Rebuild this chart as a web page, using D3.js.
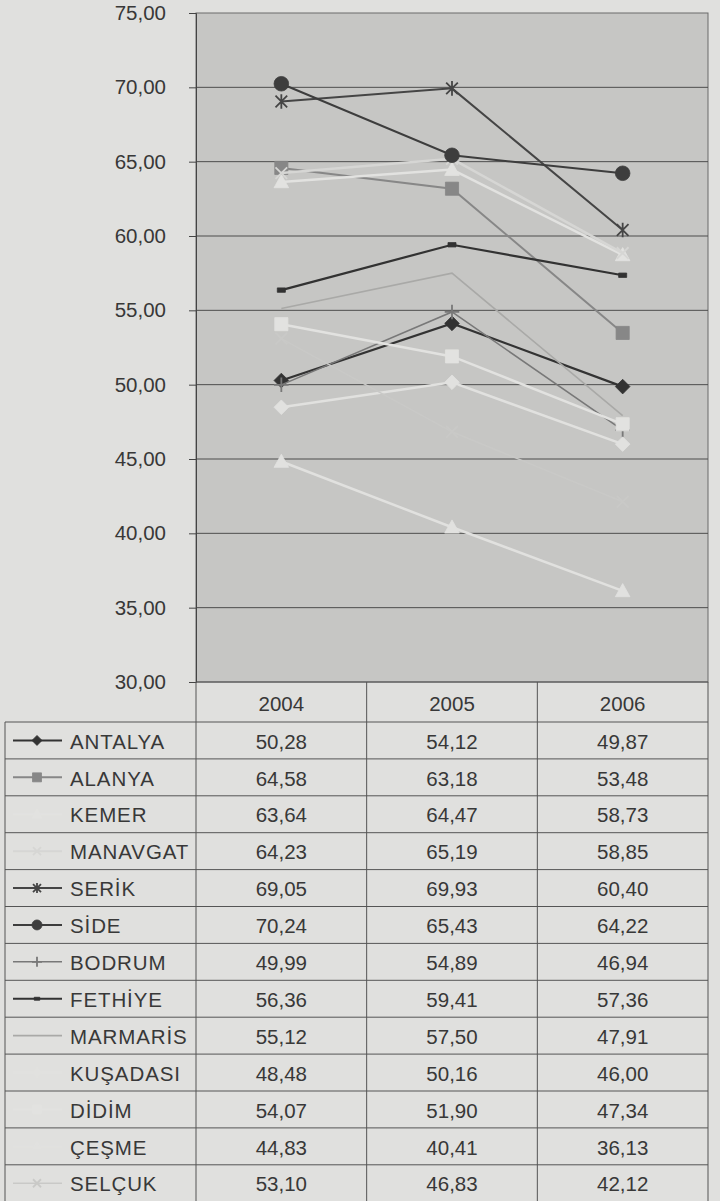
<!DOCTYPE html>
<html>
<head>
<meta charset="utf-8">
<script src="https://cdn.jsdelivr.net/npm/d3@7"></script>
<style>
  body { margin: 0; background: #e0e0de; }
  svg { display: block; }
  text { font-family: "Liberation Sans", Arial, sans-serif; fill: #383838; }
</style>
</head>
<body>
<svg id="chart"></svg>
<script>
var years = ["2004", "2005", "2006"];
var cities = ["ANTALYA", "ALANYA", "KEMER", "MANAVGAT", "SERİK", "SİDE", "BODRUM",
              "FETHİYE", "MARMARİS", "KUŞADASI", "DİDİM", "ÇEŞME", "SELÇUK"];

var antalya  = [50.28, 54.12, 49.87];
var alanya   = [64.58, 63.18, 53.48];
var kemer    = [63.64, 64.47, 58.73];
var manavgat = [64.23, 65.19, 58.85];
var serik    = [69.05, 69.93, 60.40];
var side     = [70.24, 65.43, 64.22];
var bodrum   = [49.99, 54.89, 46.94];
var fethiye  = [56.36, 59.41, 57.36];
var marmaris = [55.12, 57.50, 47.91];
var kusadasi = [48.48, 50.16, 46.00];
var didim    = [54.07, 51.90, 47.34];
var cesme    = [44.83, 40.41, 36.13];
var selcuk   = [53.10, 46.83, 42.12];

var yTicks = [30, 35, 40, 45, 50, 55, 60, 65, 70, 75];

var seriesValues = [antalya, alanya, kemer, manavgat, serik, side, bodrum,
                    fethiye, marmaris, kusadasi, didim, cesme, selcuk];

// grey-scale look of the scanned excel series
var styles = [
  {color: "#333333", width: 2.2, marker: "diamond"},
  {color: "#878787", width: 2,   marker: "square"},
  {color: "#e2e2e0", width: 2.5, marker: "triangle"},
  {color: "#d6d6d4", width: 2.5, marker: "x"},
  {color: "#454545", width: 2,   marker: "asterisk"},
  {color: "#3d3d3d", width: 2,   marker: "circle"},
  {color: "#787878", width: 1.5, marker: "plus"},
  {color: "#323232", width: 2.2, marker: "dash"},
  {color: "#a9a9a7", width: 1.6, marker: "none"},
  {color: "#e1e1df", width: 2.5, marker: "diamond"},
  {color: "#e2e2e0", width: 2.5, marker: "square"},
  {color: "#e1e1df", width: 2.5, marker: "triangle"},
  {color: "#c9c9c7", width: 1.5, marker: "x"}
];

var width = 720, height = 1201;
var plot = {left: 196, right: 708, top: 13, bottom: 682};
var rowTop = 722, rowH = 36.9, tableLeft = 5;
var fontSize = "20.5px";

var locale = d3.formatLocale({decimal: ",", thousands: ".", grouping: [3], currency: ["", ""]});
var fmt = locale.format(".2f");

var svg = d3.select("#chart").attr("width", width).attr("height", height);

var xScale = d3.scaleBand().domain(years).range([plot.left, plot.right]);
var yScale = d3.scaleLinear().domain([30, 75]).range([plot.bottom, plot.top]);
var rowScale = d3.scaleBand().domain(cities).range([rowTop, rowTop + rowH * cities.length]);

// plot area
svg.append("rect")
  .attr("x", plot.left).attr("y", plot.top)
  .attr("width", plot.right - plot.left).attr("height", plot.bottom - plot.top)
  .attr("fill", "#c6c6c4")
  .attr("stroke", "#6a6a6a").attr("stroke-width", 1);

// gridlines
svg.append("g")
  .selectAll("line")
  .data(yTicks.slice(1, -1)).enter()
  .append("line")
    .attr("x1", plot.left).attr("x2", plot.right)
    .attr("y1", function(d){ return yScale(d); })
    .attr("y2", function(d){ return yScale(d); })
    .attr("stroke", "#4d4d4d").attr("stroke-width", 1);

// y axis
var yAxis = d3.axisLeft(yScale)
  .tickValues(yTicks)
  .tickSize(7)
  .tickPadding(23)
  .tickFormat(fmt);

var yg = svg.append("g")
  .attr("transform", "translate(" + plot.left + ",0)")
  .call(yAxis);
yg.select(".domain").attr("stroke", "#444");
yg.selectAll(".tick line").attr("stroke", "#444");
yg.selectAll(".tick text")
  .attr("font-size", fontSize)
  .attr("font-family", "Liberation Sans, Arial, sans-serif")
  .attr("fill", "#3c3c3c");

// markers
function markerPath(type, r) {
  var p = d3.path();
  if (type === "diamond") {
    p.moveTo(0, -r); p.lineTo(r, 0); p.lineTo(0, r); p.lineTo(-r, 0); p.closePath();
  } else if (type === "square") {
    p.rect(-r * 0.9, -r * 0.9, r * 1.8, r * 1.8);
  } else if (type === "triangle") {
    p.moveTo(0, -r); p.lineTo(r, r * 0.8); p.lineTo(-r, r * 0.8); p.closePath();
  } else if (type === "circle") {
    p.arc(0, 0, r, 0, 2 * Math.PI);
  } else if (type === "x") {
    p.moveTo(-r * 0.8, -r * 0.8); p.lineTo(r * 0.8, r * 0.8);
    p.moveTo(r * 0.8, -r * 0.8); p.lineTo(-r * 0.8, r * 0.8);
  } else if (type === "asterisk") {
    p.moveTo(-r * 0.8, -r * 0.8); p.lineTo(r * 0.8, r * 0.8);
    p.moveTo(r * 0.8, -r * 0.8); p.lineTo(-r * 0.8, r * 0.8);
    p.moveTo(0, -r); p.lineTo(0, r);
  } else if (type === "plus") {
    p.moveTo(-r, 0); p.lineTo(r, 0);
    p.moveTo(0, -r); p.lineTo(0, r);
  } else if (type === "dash") {
    p.rect(-r * 0.55, -r * 0.3, r * 1.1, r * 0.6);
  }
  return p.toString();
}
var filled = {diamond: true, square: true, triangle: true, circle: true, dash: true};

function drawMarker(g, st, r) {
  if (st.marker === "none") return;
  g.append("path")
    .attr("d", markerPath(st.marker, r))
    .attr("fill", filled[st.marker] ? st.color : "none")
    .attr("stroke", st.color)
    .attr("stroke-width", filled[st.marker] ? 0.8 : 1.8);
}

var line = d3.line()
  .x(function(d, i){ return xScale(years[i]) + xScale.bandwidth() / 2; })
  .y(function(d){ return yScale(d); });

var lines = svg.append("g");
seriesValues.forEach(function(vals, si){
  var st = styles[si];
  var sg = lines.append("g").attr("class", "series");
  sg.append("path")
    .datum(vals)
    .attr("d", line)
    .attr("fill", "none")
    .attr("stroke", st.color)
    .attr("stroke-width", st.width);
  vals.forEach(function(v, i){
    var mg = sg.append("g")
      .attr("transform", "translate(" + (xScale(years[i]) + xScale.bandwidth() / 2) + "," + yScale(v) + ")");
    drawMarker(mg, st, 7.3);
  });
});

// data table
var table = svg.append("g").attr("class", "table");
var tableBottom = rowTop + rowH * cities.length;
var lineColor = "#555";

// header row
table.append("line")
  .attr("x1", plot.left).attr("x2", plot.right)
  .attr("y1", plot.bottom).attr("y2", plot.bottom)
  .attr("stroke", lineColor);

cities.concat(["_end"]).forEach(function(c, i){
  var y = rowTop + rowH * i;
  table.append("line")
    .attr("x1", tableLeft).attr("x2", plot.right)
    .attr("y1", y).attr("y2", y)
    .attr("stroke", lineColor).attr("stroke-width", 1);
});

// vertical lines
table.append("line")
  .attr("x1", tableLeft).attr("x2", tableLeft)
  .attr("y1", rowTop).attr("y2", tableBottom)
  .attr("stroke", lineColor);
years.forEach(function(yr){
  table.append("line")
    .attr("x1", xScale(yr)).attr("x2", xScale(yr))
    .attr("y1", plot.bottom).attr("y2", tableBottom)
    .attr("stroke", lineColor);
});
table.append("line")
  .attr("x1", plot.right).attr("x2", plot.right)
  .attr("y1", plot.bottom).attr("y2", tableBottom)
  .attr("stroke", lineColor);

// year headers
table.selectAll(".year")
  .data(years).enter()
  .append("text")
    .attr("class", "year")
    .attr("x", function(d){ return xScale(d) + xScale.bandwidth() / 2; })
    .attr("y", (plot.bottom + rowTop) / 2 + 2)
    .attr("dy", "0.35em")
    .attr("text-anchor", "middle")
    .attr("font-size", fontSize)
    .text(function(d){ return d; });

// rows: legend key, name, values
cities.forEach(function(c, si){
  var st = styles[si];
  var cy = rowScale(c) + rowScale.bandwidth() / 2;
  var row = table.append("g");

  row.append("line")
    .attr("x1", 13).attr("x2", 62)
    .attr("y1", cy).attr("y2", cy)
    .attr("stroke", st.color)
    .attr("stroke-width", Math.min(st.width, 2));
  var mg = row.append("g").attr("transform", "translate(37," + cy + ")");
  drawMarker(mg, st, 5);

  row.append("text")
    .attr("x", 70).attr("y", cy + 1)
    .attr("dy", "0.35em")
    .attr("font-size", fontSize)
    .attr("letter-spacing", "0.9px")
    .text(c);

  row.selectAll(".val")
    .data(seriesValues[si]).enter()
    .append("text")
      .attr("class", "val")
      .attr("x", function(d, i){ return xScale(years[i]) + xScale.bandwidth() / 2; })
      .attr("y", cy + 1)
      .attr("dy", "0.35em")
      .attr("text-anchor", "middle")
      .attr("font-size", fontSize)
      .text(function(d){ return fmt(d); });
});
</script>
</body>
</html>
